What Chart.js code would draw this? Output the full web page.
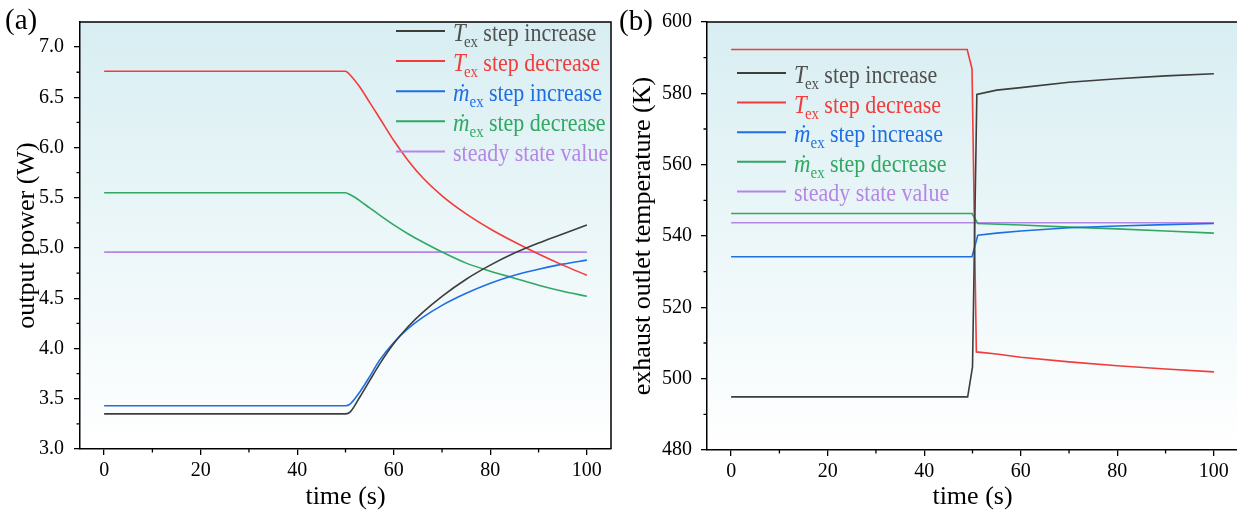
<!DOCTYPE html>
<html><head><meta charset="utf-8">
<script src="https://cdn.jsdelivr.net/npm/chart.js@4.4.1/dist/chart.umd.min.js"></script>
<style>
html,body{margin:0;padding:0;width:1237px;height:515px;overflow:hidden;background:#fff;}
#wa{position:absolute;left:0;top:0;width:618px;height:515px;}
#wb{position:absolute;left:618px;top:0;width:621px;height:515px;}
canvas{display:block;}
</style></head><body>
<div id="wa"><canvas id="ca" width="618" height="515"></canvas></div>
<div id="wb"><canvas id="cb" width="621" height="515"></canvas></div>
<script>
// ---- Series meta ----
const seriesLabels = ['Tex step increase', 'Tex step decrease', 'ṁex step increase', 'ṁex step decrease', 'steady state value'];
const legendSymbols = ['T', 'T', 'ṁ', 'ṁ', ''];
const legendSubs = ['ex', 'ex', 'ex', 'ex', ''];
const legendTexts = ['step increase', 'step decrease', 'step increase', 'step decrease', 'steady state value'];
const seriesColors = ['#3d3d3d', '#f23b3b', '#1f6fe3', '#30a862', '#b586e6'];
const legendTextColors = ['#505050', '#f23b3b', '#1f6fe3', '#30a862', '#b586e6'];

// ---- Panel (a): output power (W) ----
const timeA = [0, 50, 51, 53, 55, 57, 60, 63, 66, 70, 75, 80, 85, 90, 95, 100];
const powerTexInc = [3.35, 3.35, 3.37, 3.52, 3.68, 3.84, 4.05, 4.22, 4.36, 4.52, 4.69, 4.83, 4.95, 5.05, 5.14, 5.23];
const powerTexDec = [6.76, 6.76, 6.72, 6.60, 6.45, 6.30, 6.07, 5.87, 5.70, 5.52, 5.34, 5.19, 5.06, 4.94, 4.83, 4.73];
const powerMexInc = [3.43, 3.43, 3.45, 3.57, 3.72, 3.88, 4.06, 4.20, 4.31, 4.43, 4.55, 4.65, 4.73, 4.79, 4.84, 4.88];
const powerMexDec = [5.55, 5.55, 5.53, 5.47, 5.40, 5.33, 5.23, 5.14, 5.06, 4.96, 4.85, 4.77, 4.70, 4.63, 4.57, 4.52];
const timeSteadyA = [0, 100];
const powerSteady = [4.96, 4.96];

// ---- Panel (b): exhaust outlet temperature (K) ----
const timeTexIncB = [0, 49, 50, 50.9, 55, 60, 70, 80, 90, 100];
const tempTexInc = [494.9, 494.9, 503.3, 579.7, 580.9, 581.6, 583.1, 584.1, 584.9, 585.5];
const timeTexDecB = [0, 48.9, 49.9, 50.8, 55, 60, 70, 80, 90, 100];
const tempTexDec = [592.3, 592.3, 586.9, 507.5, 506.9, 506.0, 504.7, 503.6, 502.7, 501.9];
const timeMexIncB = [0, 49.9, 51.1, 55, 60, 70, 80, 90, 100];
const tempMexInc = [534.2, 534.2, 540.2, 540.8, 541.4, 542.3, 542.8, 543.2, 543.5];
const timeMexDecB = [0, 49.9, 51.1, 60, 70, 80, 90, 100];
const tempMexDec = [546.3, 546.3, 543.5, 543.1, 542.5, 542.0, 541.4, 540.8];
const timeSteadyB = [0, 100];
const tempSteady = [543.7, 543.7];

// ---- Ticks ----
const xTicks = [0, 20, 40, 60, 80, 100];
const xMinorTicks = [10, 30, 50, 70, 90];
const yTicksA = [3.0, 3.5, 4.0, 4.5, 5.0, 5.5, 6.0, 6.5, 7.0];
const yMinorTicksA = [3.25, 3.75, 4.25, 4.75, 5.25, 5.75, 6.25, 6.75];
const yTicksB = [480, 500, 520, 540, 560, 580, 600];
const yMinorTicksB = [490, 510, 530, 550, 570, 590];

const FONT = 'Liberation Serif';

function pts(xs, ys) { return xs.map((x, i) => ({x: x, y: ys[i]})); }

function makeDatasets(list, mono) {
  return list.map((d, i) => ({
    label: seriesLabels[i],
    data: pts(d[0], d[1]),
    borderColor: seriesColors[i],
    backgroundColor: seriesColors[i],
    borderWidth: 1.6,
    pointRadius: 0,
    fill: false,
    cubicInterpolationMode: mono ? 'monotone' : 'default',
    tension: 0
  }));
}

function decorPlugin(p) {
  return {
    id: 'decor' + p.letter,
    beforeDraw(chart) {
      const {ctx, chartArea: a} = chart;
      const g = ctx.createLinearGradient(0, a.top, 0, a.bottom);
      g.addColorStop(0, '#d8eef2');
      g.addColorStop(1, '#ffffff');
      ctx.save();
      ctx.fillStyle = g;
      ctx.fillRect(a.left, a.top, a.right - a.left, a.bottom - a.top);
      ctx.restore();
    },
    afterDraw(chart) {
      const {ctx, chartArea: a, scales} = chart;
      ctx.save();
      ctx.strokeStyle = '#000';
      ctx.lineWidth = 1.5;
      ctx.beginPath();
      ctx.moveTo(a.left, a.top); ctx.lineTo(a.right, a.top); ctx.lineTo(a.right, a.bottom);
      ctx.stroke();
      ctx.lineWidth = 1.3;
      ctx.beginPath();
      p.xMinor.forEach(v => { const px = scales.x.getPixelForValue(v); ctx.moveTo(px, a.bottom); ctx.lineTo(px, a.bottom + 3.5); });
      p.yMinor.forEach(v => { const py = scales.y.getPixelForValue(v); ctx.moveTo(a.left, py); ctx.lineTo(a.left - 3.5, py); });
      ctx.stroke();
      chart.data.datasets.forEach((ds, i) => {
        const y = p.legY + i * p.legDY;
        ctx.strokeStyle = ds.borderColor;
        ctx.lineWidth = 2;
        ctx.beginPath(); ctx.moveTo(p.legX, y); ctx.lineTo(p.legX + 49, y); ctx.stroke();
        ctx.save();
        ctx.translate(p.legX + 57, y + 10);
        ctx.scale(0.88, 1);
        ctx.fillStyle = legendTextColors[i];
        ctx.textBaseline = 'alphabetic';
        let cx = 0;
        if (legendSymbols[i]) {
          ctx.font = 'italic 26px "' + FONT + '"';
          ctx.fillText(legendSymbols[i], cx, 0);
          cx += ctx.measureText(legendSymbols[i]).width - (legendSymbols[i] === 'T' ? 2 : 0);
          ctx.font = '17px "' + FONT + '"';
          ctx.fillText(legendSubs[i], cx, 6);
          cx += ctx.measureText(legendSubs[i]).width + 6;
        }
        ctx.font = '25px "' + FONT + '"';
        ctx.fillText(legendTexts[i], cx, 0);
        ctx.restore();
      });
      ctx.fillStyle = '#000';
      ctx.font = '29px "' + FONT + '"';
      ctx.textBaseline = 'middle';
      ctx.textAlign = 'left';
      ctx.fillText(p.letter, p.letterX, p.letterY);
      ctx.restore();
    }
  };
}

function axisCommon(ticksArr, fmt, fitFn, title, titlePad) {
  return {
    type: 'linear',
    afterBuildTicks: s => { s.ticks = ticksArr.map(v => ({value: v})); },
    afterFit: fitFn,
    grid: {display: true, drawOnChartArea: false, drawTicks: true, tickLength: 6, color: '#000', lineWidth: 1.3},
    border: {display: true, color: '#000', width: 1.5},
    ticks: {color: '#000', font: {family: FONT, size: 20}, autoSkip: false, maxRotation: 0, callback: fmt},
    title: {display: true, text: title, color: '#000', font: {family: FONT, size: 26}, padding: titlePad}
  };
}

function makeChart(id, datasets, mono, o) {
  const xs = axisCommon(xTicks, v => String(v), s => { s.height = o.xH; }, 'time (s)', {top: 0, bottom: 2});
  xs.min = -5; xs.max = 105; xs.ticks.padding = 4;
  const ys = axisCommon(o.yTicks, o.yFmt, s => { s.width = o.yW; }, o.yTitle, {top: o.yTitlePad, bottom: 0});
  ys.min = o.yMin; ys.max = o.yMax; ys.ticks.padding = o.yPad;
  return new Chart(document.getElementById(id), {
    type: 'line',
    data: {datasets: makeDatasets(datasets, mono)},
    options: {
      responsive: false,
      animation: false,
      devicePixelRatio: 1,
      layout: {padding: o.pad},
      plugins: {legend: {display: false}, tooltip: {enabled: false}},
      scales: {x: xs, y: ys}
    },
    plugins: [decorPlugin(o.decor)]
  });
}

makeChart('ca', [
  [timeA, powerTexInc], [timeA, powerTexDec], [timeA, powerMexInc], [timeA, powerMexDec], [timeSteadyA, powerSteady]
], true, {
  xH: 66, yW: 80, yMin: 3.0, yMax: 7.25, yTicks: yTicksA, yFmt: v => v.toFixed(1),
  yTitle: 'output power (W)', yTitlePad: 12, yPad: 10,
  pad: {left: 0, top: 21, right: 7, bottom: 0},
  decor: {letter: '(a)', letterX: 5, letterY: 21, legX: 396, legY: 31, legDY: 30.1, xMinor: xMinorTicks, yMinor: yMinorTicksA}
});

makeChart('cb', [
  [timeTexIncB, tempTexInc], [timeTexDecB, tempTexDec], [timeMexIncB, tempMexInc], [timeMexDecB, tempMexDec], [timeSteadyB, tempSteady]
], false, {
  xH: 65, yW: 89, yMin: 480, yMax: 600, yTicks: yTicksB, yFmt: v => String(v),
  yTitle: 'exhaust outlet temperature (K)', yTitlePad: 10, yPad: 9,
  pad: {left: 0, top: 22, right: 1, bottom: 0},
  decor: {letter: '(b)', letterX: 1, letterY: 22, legX: 119, legY: 73, legDY: 29.6, xMinor: xMinorTicks, yMinor: yMinorTicksB}
});
</script>
</body></html>
